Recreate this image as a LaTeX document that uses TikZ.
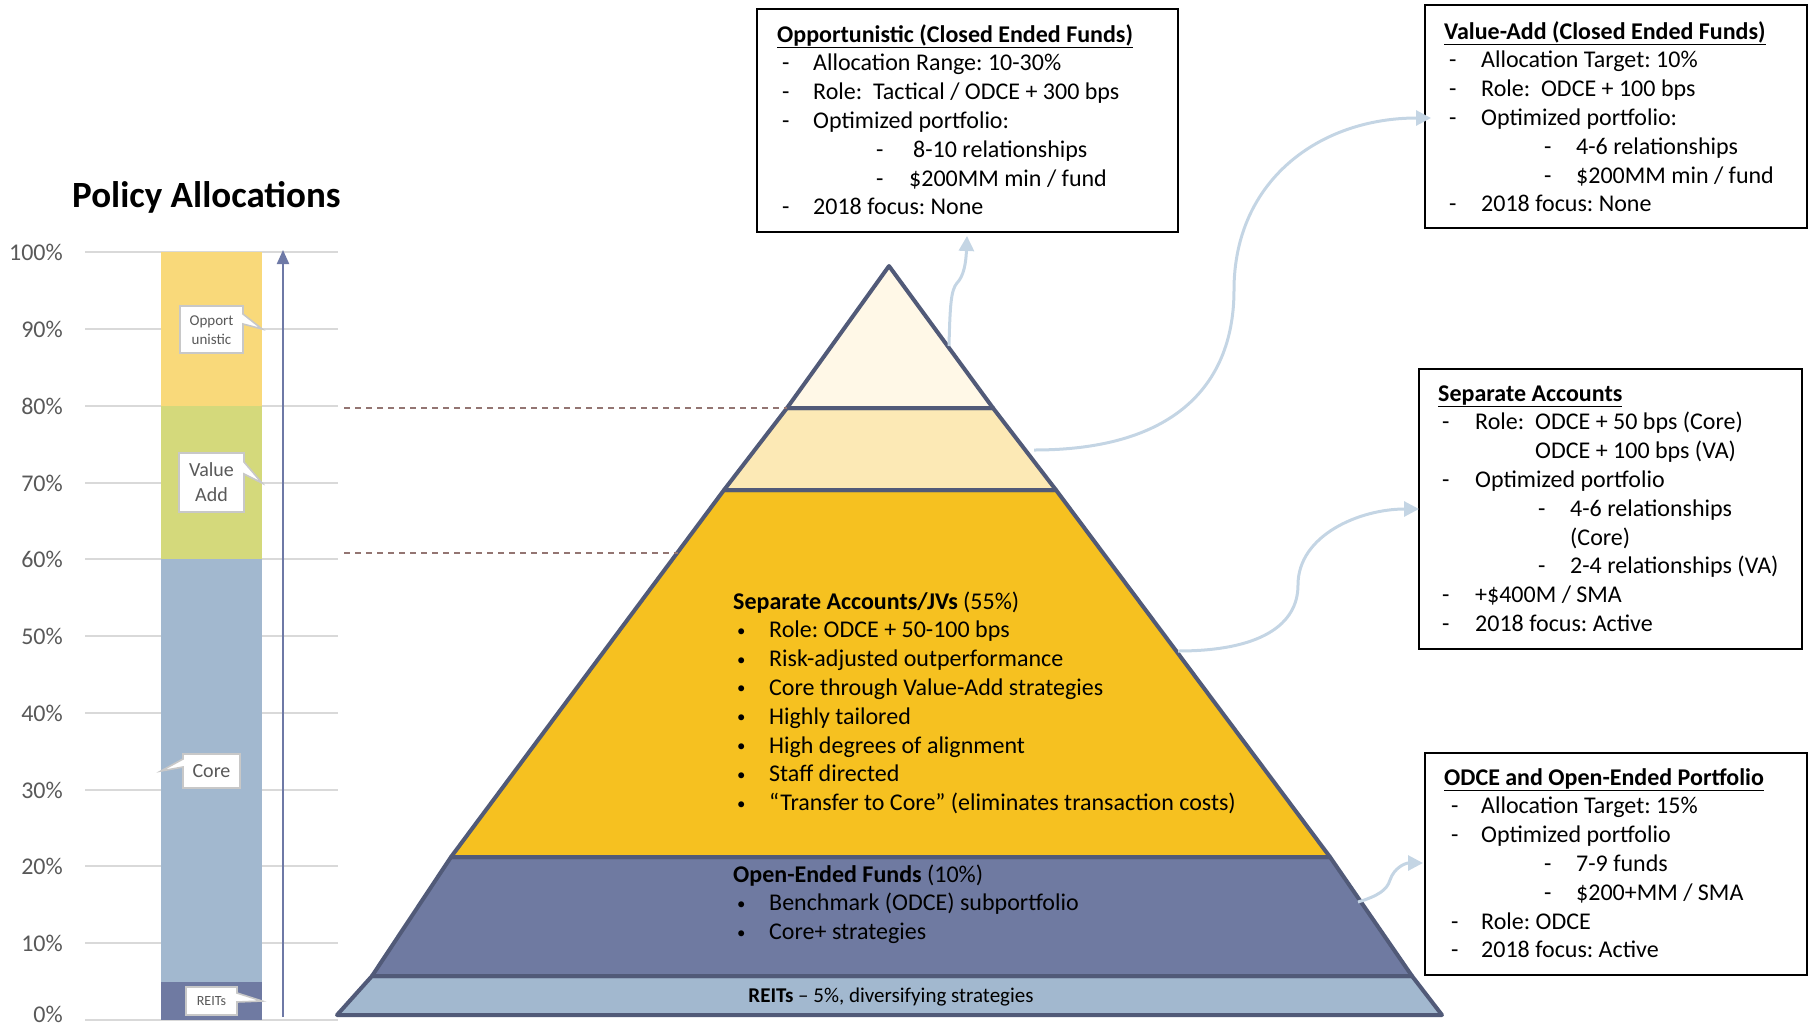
\documentclass[tikz,border=0pt]{standalone}
\usepackage{fontspec}
\usepackage{graphicx}
\setmainfont{Carlito}
\usetikzlibrary{arrows.meta}
\definecolor{gridc}{HTML}{D9D9D9}
\definecolor{axtxt}{HTML}{595959}
\definecolor{barOpp}{HTML}{F9D97A}
\definecolor{barVA}{HTML}{D4D97B}
\definecolor{barCore}{HTML}{A2B8CF}
\definecolor{barReit}{HTML}{6F7AA2}
\definecolor{pyrLine}{HTML}{515A78}
\definecolor{pyrTop}{HTML}{FFF8E7}
\definecolor{pyrVA}{HTML}{FCE9B5}
\definecolor{pyrSep}{HTML}{F6C120}
\definecolor{pyrOpen}{HTML}{6F7AA1}
\definecolor{pyrReit}{HTML}{A2B8CF}
\definecolor{connc}{HTML}{C4D5E4}
\definecolor{dashc}{HTML}{937572}
\definecolor{uparr}{HTML}{6E79A6}
\definecolor{callb}{HTML}{C8C8C8}
\newcommand\smbul{\makebox[32pt][l]{\raisebox{1.5pt}{\scalebox{0.7}{\textbullet}}}}
\tikzset{
  gridline/.style={draw=gridc, line width=1.6pt},
  axlabel/.style={anchor=east, inner sep=0pt, text=axtxt, font=\fontsize{24}{28}\selectfont},
  callout/.style={fill=white, draw=callb, line width=1.6pt, line join=miter},
  calltext/.style={inner sep=0pt, text=axtxt, align=center},
  band/.style={draw=pyrLine, line width=4pt, line join=round},
  infobox/.style={draw=black, line width=2pt, inner sep=0pt},
  boxtext/.style={anchor=base west, inner sep=0pt, font=\fontsize{24}{28.8}\selectfont\frenchspacing},
  conn/.style={draw=connc, line width=3pt, -{Triangle[length=15pt,width=15pt]}},
  guide/.style={draw=dashc, line width=1.6pt, dash pattern=on 6pt off 5pt}
}
\begin{document}
\frenchspacing
\begin{tikzpicture}[x=1pt,y=-1pt]
\useasboundingbox (0,0) rectangle (1808,1026);

% ---------- title ----------
\node[anchor=base west, inner sep=0pt, font=\fontsize{37}{44}\selectfont\bfseries] (ttl) at (72,207) {Policy Allocations};

% ---------- grid and axis ----------
\foreach \p/\yy/\ly in {100/252/252,90/329/329,80/406/406,70/483/483,60/559/559,50/636/636,40/713/713,30/790/790,20/866/866,10/943/943,0/1020/1014}{
  \draw[gridline] (85,\yy) -- (338,\yy);
  \node[axlabel] (ax\p) at (63,\ly) {\p\%};
}

% ---------- stacked bar ----------
\fill[barOpp]  (161,252) rectangle (262,406);
\fill[barVA]   (161,406) rectangle (262,559);
\fill[barCore] (161,559) rectangle (262,982);
\fill[barReit] (161,982) rectangle (262,1020);

% vertical arrow
\coordinate (arrB) at (283,1017);
\coordinate (arrT) at (283,250);
\draw[draw=uparr, line width=2.2pt, -{Triangle[length=14pt,width=12pt]}] (arrB) -- (arrT);

% callouts
\draw[callout] (180,306) -- (243,306) -- (243,314) -- (262,329) -- (243,324) -- (243,353) -- (180,353) -- cycle;
\node[calltext, font=\fontsize{15}{19}\selectfont] (cOpp) at (211.5,330) {Opport\\unistic};
\draw[callout] (179,453) -- (244,453) -- (244,462) -- (262,483) -- (244,474) -- (244,512) -- (179,512) -- cycle;
\node[calltext, font=\fontsize{20}{25}\selectfont] (cVA) at (211.5,482) {Value\\Add};
\draw[callout] (183,754) -- (240,754) -- (240,788) -- (183,788) -- (183,767) -- (161,771) -- (183,759) -- cycle;
\node[calltext, font=\fontsize{20}{24}\selectfont] (cCore) at (211.5,771) {Core};
\draw[callout] (186,987) -- (237,987) -- (237,993) -- (262,1001) -- (237,1002) -- (237,1015) -- (186,1015) -- cycle;
\node[calltext, font=\fontsize{14}{17}\selectfont] (cReit) at (211.5,1001) {REITs};

% ---------- pyramid ----------
\coordinate (apex) at (889,266);
\coordinate (l1) at (787,408); \coordinate (r1) at (993,408);
\coordinate (l2) at (724,490); \coordinate (r2) at (1056,490);
\coordinate (l3) at (451,857); \coordinate (r3) at (1330,857);
\coordinate (l4) at (372,976); \coordinate (r4) at (1412,976);
\coordinate (l5) at (337,1015); \coordinate (r5) at (1442,1015);

\draw[band, fill=pyrReit] (l4) -- (r4) -- (r5) -- (l5) -- cycle;
\draw[band, fill=pyrOpen] (l3) -- (r3) -- (r4) -- (l4) -- cycle;
\draw[band, fill=pyrSep]  (l2) -- (r2) -- (r3) -- (l3) -- cycle;
\draw[band, fill=pyrVA]   (l1) -- (r1) -- (r2) -- (l2) -- cycle;
\draw[band, fill=pyrTop]  (apex) -- (r1) -- (l1) -- cycle;

% dashed guides
\coordinate (g80) at (344,408);
\coordinate (g60) at (344,553);
\coordinate (e60) at (678,553);
\draw[guide] (g80) -- (l1);
\draw[guide] (g60) -- (e60);

% pyramid texts
\node[boxtext] (sepTxt) at (733,609) {\begin{tabular}[t]{@{}l@{}}
\textbf{Separate Accounts/JVs} (55\%)\\
\hspace*{4pt}\smbul Role: ODCE + 50-100 bps\\
\hspace*{4pt}\smbul Risk-adjusted outperformance\\
\hspace*{4pt}\smbul Core through Value-Add strategies\\
\hspace*{4pt}\smbul Highly tailored\\
\hspace*{4pt}\smbul High degrees of alignment\\
\hspace*{4pt}\smbul Staff directed\\
\hspace*{4pt}\smbul “Transfer to Core” (eliminates transaction costs)
\end{tabular}};

\node[boxtext] (openTxt) at (733,882) {\begin{tabular}[t]{@{}l@{}}
\textbf{Open-Ended Funds} (10\%)\\
\hspace*{4pt}\smbul Benchmark (ODCE) subportfolio\\
\hspace*{4pt}\smbul Core+ strategies
\end{tabular}};

\node[inner sep=0pt, font=\fontsize{21}{25}\selectfont] (reitTxt) at (891,997) {\textbf{REITs} – 5\%, diversifying strategies};

% ---------- info boxes ----------
\node[infobox, minimum width=421pt, minimum height=223pt] (oppBox) at (967.5,120.5) {};
\node[boxtext] (oppTxt) at (777,42) {\begin{tabular}[t]{@{}l@{}}
\underline{\textbf{Opportunistic (Closed Ended Funds)}}\\
\hspace*{5pt}\makebox[31pt][l]{-}Allocation Range: 10-30\%\\
\hspace*{5pt}\makebox[31pt][l]{-}Role:\ \ Tactical / ODCE + 300 bps\\
\hspace*{5pt}\makebox[31pt][l]{-}Optimized portfolio:\\
\hspace*{99pt}\makebox[37pt][l]{-}8-10 relationships\\
\hspace*{99pt}\makebox[33pt][l]{-}\$200MM min / fund\\
\hspace*{5pt}\makebox[31pt][l]{-}2018 focus: None
\end{tabular}};

\node[infobox, minimum width=382pt, minimum height=223pt] (vaBox) at (1616,116.5) {};
\node[boxtext] (vaTxt) at (1444,39) {\begin{tabular}[t]{@{}l@{}}
\underline{\textbf{Value-Add (Closed Ended Funds)}}\\
\hspace*{5pt}\makebox[32pt][l]{-}Allocation Target: 10\%\\
\hspace*{5pt}\makebox[32pt][l]{-}Role:\ \ ODCE + 100 bps\\
\hspace*{5pt}\makebox[32pt][l]{-}Optimized portfolio:\\
\hspace*{100pt}\makebox[32pt][l]{-}4-6 relationships\\
\hspace*{100pt}\makebox[32pt][l]{-}\$200MM min / fund\\
\hspace*{5pt}\makebox[32pt][l]{-}2018 focus: None
\end{tabular}};

\node[infobox, minimum width=383pt, minimum height=280pt] (sepBox) at (1610.5,509) {};
\node[boxtext] (sepBoxTxt) at (1438,401) {\begin{tabular}[t]{@{}l@{}}
\underline{\textbf{Separate Accounts}}\\
\hspace*{4pt}\makebox[33pt][l]{-}\makebox[60pt][l]{Role:}ODCE + 50 bps (Core)\\
\hspace*{97pt}ODCE + 100 bps (VA)\\
\hspace*{4pt}\makebox[33pt][l]{-}Optimized portfolio\\
\hspace*{100pt}\makebox[32pt][l]{-}4-6 relationships\\
\hspace*{132pt}(Core)\\
\hspace*{100pt}\makebox[32pt][l]{-}2-4 relationships (VA)\\
\hspace*{4pt}\makebox[33pt][l]{-}+\$400M / SMA\\
\hspace*{4pt}\makebox[33pt][l]{-}2018 focus: Active
\end{tabular}};

\node[infobox, minimum width=382pt, minimum height=222pt] (odceBox) at (1616,864) {};
\node[boxtext] (odceTxt) at (1444,785) {\begin{tabular}[t]{@{}l@{}}
\underline{\textbf{ODCE and Open-Ended Portfolio}}\\
\hspace*{7pt}\makebox[30pt][l]{-}Allocation Target: 15\%\\
\hspace*{7pt}\makebox[30pt][l]{-}Optimized portfolio\\
\hspace*{100pt}\makebox[32pt][l]{-}7-9 funds\\
\hspace*{100pt}\makebox[32pt][l]{-}\$200+MM / SMA\\
\hspace*{7pt}\makebox[30pt][l]{-}Role: ODCE\\
\hspace*{7pt}\makebox[30pt][l]{-}2018 focus: Active
\end{tabular}};

% ---------- connectors ----------
\coordinate (s1) at (949,346);  \coordinate (t1) at (967,236);
\coordinate (s2) at (1034,450); \coordinate (t2) at (1431,118);
\coordinate (s3) at (1178,651); \coordinate (t3) at (1419,509);
\coordinate (s4) at (1358,902); \coordinate (t4) at (1423,863);
\draw[conn] (s1) .. controls (950,305) and (951,290) .. (957,283) .. controls (964,276) and (966,262) .. (t1);
\draw[conn] (s2) .. controls (1180,450) and (1234,380) .. (1234,290) .. controls (1234,180) and (1320,118) .. (t2);
\draw[conn] (s3) .. controls (1260,651) and (1298,625) .. (1298,585) .. controls (1298,535) and (1360,509) .. (t3);
\draw[conn] (s4) .. controls (1378,896) and (1387,890) .. (1390,880) .. controls (1394,868) and (1405,863) .. (t4);
\end{tikzpicture}
\end{document}
